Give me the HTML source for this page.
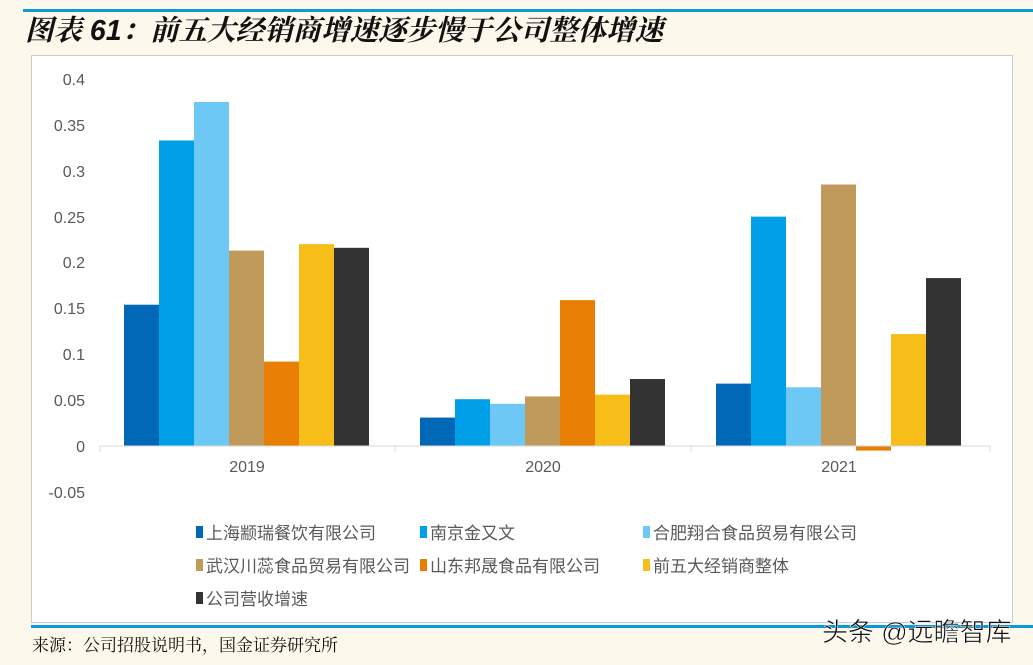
<!DOCTYPE html><html><head><meta charset="utf-8"><style>
body{margin:0;width:1033px;height:665px;background:#fdf8ec;overflow:hidden;font-family:"Liberation Sans","Noto Sans CJK SC",sans-serif}
</style></head><body>
<svg width="1033" height="665" xmlns="http://www.w3.org/2000/svg" style="position:absolute;left:0;top:0">
<rect x="23" y="9" width="1010" height="3" fill="#0a9ad8"/>
<text x="25" y="40" font-size="28.5" font-style="italic" font-weight="bold" font-family="Liberation Sans,'Noto Serif CJK SC',serif" fill="#111">图表 61：前五大经销商增速逐步慢于公司整体增速</text>
<rect x="31.5" y="55.5" width="981" height="567" fill="#fff" stroke="#ccc"/>
<rect x="31" y="625" width="1002" height="3" fill="#0a9ad8"/>
<text x="32" y="651" font-size="17" font-family="'Noto Serif CJK SC',serif" fill="#111">来源：公司招股说明书，国金证券研究所</text>
<text x="822" y="641" font-size="26" fill="#111" stroke="#fff" stroke-width="0.5">头条 @远瞻智库</text>
<g font-size="16" fill="#595959" text-anchor="end">
<text x="85" y="85">0.4</text><text x="85" y="131">0.35</text><text x="85" y="177">0.3</text><text x="85" y="223">0.25</text><text x="85" y="268">0.2</text><text x="85" y="314">0.15</text><text x="85" y="360">0.1</text><text x="85" y="406">0.05</text><text x="85" y="452">0</text><text x="85" y="498">-0.05</text>
</g>
<g id="bars"></g>
<line x1="100" y1="446" x2="990" y2="446" stroke="#d9d9d9"/>
<g stroke="#d9d9d9"><line x1="100" y1="446" x2="100" y2="452"/><line x1="395" y1="446" x2="395" y2="452"/><line x1="691" y1="446" x2="691" y2="452"/><line x1="990" y1="446" x2="990" y2="452"/></g>
<g font-size="16" fill="#595959" text-anchor="middle"><text x="247" y="472">2019</text><text x="543" y="472">2020</text><text x="839" y="472">2021</text></g>
<g font-size="17" fill="#595959">
<rect x="196" y="526" width="7" height="12" fill="#0068b7"/><text x="206" y="539">上海颛瑞餐饮有限公司</text>
<rect x="420" y="526" width="7" height="12" fill="#00a0e9"/><text x="430" y="539">南京金又文</text>
<rect x="643" y="526" width="7" height="12" fill="#6ec8f5"/><text x="653" y="539">合肥翔合食品贸易有限公司</text>
<rect x="196" y="559" width="7" height="12" fill="#c09a5a"/><text x="206" y="572">武汉川蕊食品贸易有限公司</text>
<rect x="420" y="559" width="7" height="12" fill="#e87e04"/><text x="430" y="572">山东邦晟食品有限公司</text>
<rect x="643" y="559" width="7" height="12" fill="#f7bd18"/><text x="653" y="572">前五大经销商整体</text>
<rect x="196" y="592" width="7" height="12" fill="#333"/><text x="206" y="605">公司营收增速</text>
</g>
</svg>
<script>
var d=[[0.154,0.333,0.375,0.213,0.092,0.220,0.216],[0.031,0.051,0.046,0.054,0.159,0.056,0.073],[0.068,0.250,0.064,0.285,-0.005,0.122,0.183]];
var c=["#0068b7","#00a0e9","#6ec8f5","#c09a5a","#e87e04","#f7bd18","#333333"];
var g=document.getElementById("bars"),s="";
for(var i=0;i<3;i++)for(var j=0;j<7;j++){var v=d[i][j],x=124+i*296+j*35,h=Math.abs(v)*917.5,y=v>=0?446-h:446;s+='<rect x="'+x+'" y="'+y+'" width="35" height="'+h+'" fill="'+c[j]+'"/>';}
g.innerHTML=s;
</script>
</body></html>
